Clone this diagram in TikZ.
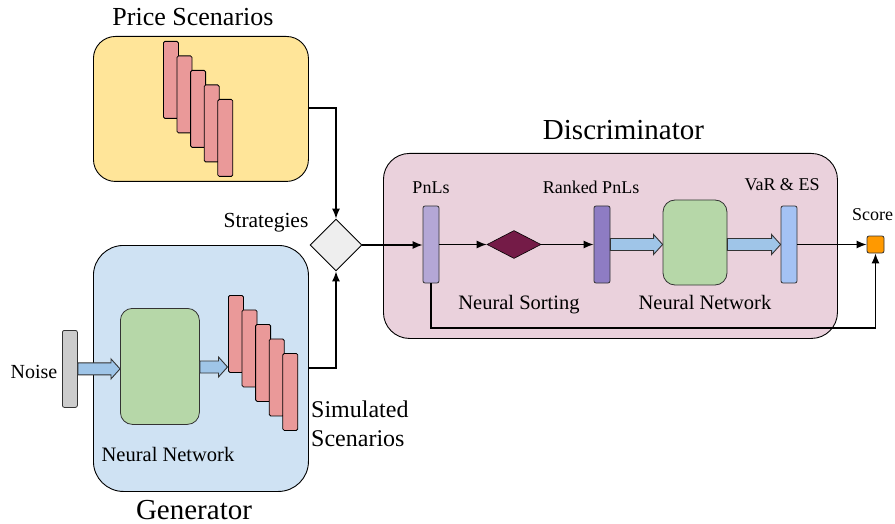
\documentclass[tikz,border=0pt]{standalone}
\usepackage{fontspec}
\setmainfont{LiberationSerif}[Extension=.ttf, UprightFont=*-Regular, BoldFont=*-Bold]
\usetikzlibrary{calc,arrows.meta,shapes.geometric}
\definecolor{yellowbg}{HTML}{FFE599}
\definecolor{bluebg}{HTML}{CFE2F3}
\definecolor{pinkbg}{HTML}{EAD1DC}
\definecolor{redbar}{HTML}{EA9999}
\definecolor{greennn}{HTML}{B6D7A8}
\definecolor{greybar}{HTML}{CCCCCC}
\definecolor{pnlbar}{HTML}{B4A7D6}
\definecolor{rankbar}{HTML}{8E7CC3}
\definecolor{varbar}{HTML}{A4C2F4}
\definecolor{sortdia}{HTML}{741B47}
\definecolor{scoreor}{HTML}{FF9900}
\definecolor{fatblue}{HTML}{9FC5E8}
\definecolor{diagrey}{HTML}{EEEEEE}
\definecolor{edge}{HTML}{333333}
\tikzset{
  panel/.style={draw=black, line width=0.9pt, rounded corners=#1, inner sep=0pt},
  bar/.style={draw=black, line width=0.8pt, rounded corners=1.5pt, minimum width=15pt, minimum height=77pt, inner sep=0pt, anchor=north west},
  vbar/.style={draw=edge, line width=0.8pt, rounded corners=2pt, minimum width=16pt, minimum height=77pt, inner sep=0pt},
  nnbox/.style={draw=edge, line width=0.8pt, fill=greennn, rounded corners=12pt, inner sep=0pt},
  conn/.style={draw=black, line width=1.3pt, -{Latex[length=10pt,width=8pt]}},
  fat/.style={draw=edge, line width=0.9pt, fill=fatblue},
  lbl/.style={inner sep=0pt, anchor=base},
}
\begin{document}
\begin{tikzpicture}[x=1pt,y=-1pt,every node/.style={font=\rmfamily}]
\useasboundingbox (0,0) rectangle (895,524);
% ---------- Price scenarios
\node[panel=22pt, fill=yellowbg, minimum width=215pt, minimum height=145pt, anchor=north west] (price) at (93,36) {};
\node[lbl, font=\fontsize{26}{28}\selectfont] (pricet) at (193,26) {Price Scenarios};
\foreach \i in {0,...,4}{
  \node[bar, fill=redbar] (p\i) at ({163+13.6*\i},{41+14.5*\i}) {};
}
% ---------- Generator
\node[panel=30pt, fill=bluebg, minimum width=215pt, minimum height=246pt, anchor=north west] (gen) at (93,245) {};
\node[lbl, font=\fontsize{29}{31}\selectfont] (gent) at (194,519) {Generator};
\node[vbar, fill=greybar, minimum width=15pt, anchor=north west] (noise) at (62,330) {};
\node[lbl, font=\fontsize{20}{22}\selectfont] (noiset) at (34,378) {Noise};
\node[nnbox, minimum width=79pt, minimum height=116pt, anchor=north west] (gnn) at (120,308) {};
\node[lbl, font=\fontsize{20.5}{22}\selectfont] (gnnt) at (168,461) {Neural Network};
\foreach \i in {0,...,4}{
  \node[bar, fill=redbar] (g\i) at ({228+13.6*\i},{295+14.5*\i}) {};
}
\node[lbl, font=\fontsize{24}{26}\selectfont, anchor=base west] (simt1) at (311,417) {Simulated};
\node[lbl, font=\fontsize{24}{26}\selectfont, anchor=base west] (simt2) at (311,446) {Scenarios};
\coordinate (gnnw) at (gnn.west |- noise.east);
\draw[fat] ($(noise.east)+(0,-6)$) -- ($(gnnw)+(-9,-6)$) -- ($(gnnw)+(-9,-10)$) -- (gnnw) -- ($(gnnw)+(-9,10)$) -- ($(gnnw)+(-9,6)$) -- ($(noise.east)+(0,6)$) -- cycle;
\coordinate (g0w) at (227.5,367);
\draw[fat] ($(gnn.east |- g0w)+(0,-6)$) -- ($(g0w)+(-9,-6)$) -- ($(g0w)+(-9,-10)$) -- (g0w) -- ($(g0w)+(-9,10)$) -- ($(g0w)+(-9,6)$) -- ($(gnn.east |- g0w)+(0,6)$) -- cycle;
% ---------- Strategies diamond
\node[diamond, draw=black, line width=0.9pt, fill=diagrey, minimum width=52pt, minimum height=52pt, inner sep=0pt] (strat) at (336,245) {};
\node[lbl, font=\fontsize{21.5}{23}\selectfont] (stratt) at (266,228) {Strategies};
\coordinate (pout) at (price.east |- 0,108);
\draw[conn] (pout) -| (strat.north);
\coordinate (gout) at (gen.east |- 0,368);
\draw[conn] (gout) -| (strat.south);
% ---------- Discriminator
\node[panel=26pt, fill=pinkbg, minimum width=454pt, minimum height=185pt, anchor=north west] (disc) at (383,153) {};
\node[lbl, font=\fontsize{29}{31}\selectfont] (disct) at (623.5,140) {Discriminator};
\node[vbar, fill=pnlbar] (pnl) at (431,244.5) {};
\node[lbl, font=\fontsize{18}{20}\selectfont] (pnlt) at (431,194) {PnLs};
\node[diamond, draw=black, line width=0.6pt, fill=sortdia, minimum width=54pt, minimum height=28pt, inner sep=0pt] (sort) at (514,244.5) {};
\node[lbl, font=\fontsize{20.5}{22}\selectfont] (sortt) at (519,309) {Neural Sorting};
\node[vbar, fill=rankbar] (rank) at (602,244.5) {};
\node[lbl, font=\fontsize{18}{20}\selectfont] (rankt) at (591,194) {Ranked PnLs};
\node[nnbox, minimum width=64pt, minimum height=85pt] (dnn) at (695,242.5) {};
\node[lbl, font=\fontsize{20.5}{22}\selectfont] (dnnt) at (705,309) {Neural Network};
\node[vbar, fill=varbar] (var) at (789,244.5) {};
\node[lbl, font=\fontsize{18}{20}\selectfont] (vart) at (782,191) {VaR \& ES};
\node[draw=edge, line width=0.8pt, fill=scoreor, rounded corners=2pt, minimum width=17pt, minimum height=17pt, inner sep=0pt] (score) at (875.5,244.5) {};
\node[lbl, font=\fontsize{18}{20}\selectfont, anchor=base west] (scoret) at (852,220) {Score};
\draw[conn] (strat.east) -- (pnl.west |- strat.east);
\draw[conn] (pnl.east) -- (sort.west);
\draw[conn] (sort.east) -- (rank.west);
\coordinate (dnnw) at (dnn.west |- rank.east);
\draw[fat] ($(rank.east)+(0,-6)$) -- ($(dnnw)+(-9,-6)$) -- ($(dnnw)+(-9,-10)$) -- (dnnw) -- ($(dnnw)+(-9,10)$) -- ($(dnnw)+(-9,6)$) -- ($(rank.east)+(0,6)$) -- cycle;
\coordinate (varw) at (var.west);
\draw[fat] ($(dnn.east |- varw)+(0,-6)$) -- ($(varw)+(-9,-6)$) -- ($(varw)+(-9,-10)$) -- (varw) -- ($(varw)+(-9,10)$) -- ($(varw)+(-9,6)$) -- ($(dnn.east |- varw)+(0,6)$) -- cycle;
\draw[conn] (var.east) -- (score.west);
\coordinate (loop) at (pnl.south |- 0,328);
\draw[conn] (pnl.south) -- (loop) -| (score.south);
\end{tikzpicture}
\end{document}
